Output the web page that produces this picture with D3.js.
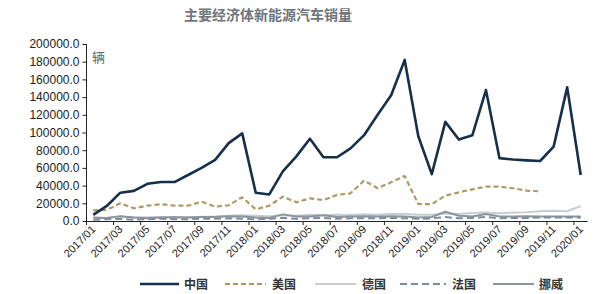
<!DOCTYPE html>
<html>
<head>
<meta charset="utf-8">
<script src="https://cdn.jsdelivr.net/npm/d3@7"></script>
<style>
  body { margin: 0; background: #fff; }
  text { font-family: "Liberation Sans", "Noto Sans CJK SC", sans-serif; }
  .cjk { font-family: "Noto Sans CJK SC", sans-serif; }
</style>
</head>
<body>
<script>
var months = [];
for (var yr = 2017; yr <= 2019; yr++) {
	for (var m = 1; m <= 12; m++) months.push(yr + "/" + (m < 10 ? "0" + m : m));
}
months.push("2020/01");

var china = [7000,17000,32000,34000,42000,44000,44000,52000,60000,69000,88000,99000,
	32000,30000,56000,73000,93000,72000,72000,82000,97000,120000,142000,182000,
	96000,53000,112000,92000,97000,148000,71000,69500,68500,67800,84000,151000,52000];
var usa = [12000,12500,20000,14300,17300,18900,17300,17300,21800,16200,17800,26800,
	13200,17300,27500,21100,25600,23700,29500,31300,45600,37000,43700,50800,
	19200,19000,28600,32400,35800,38800,38800,37000,34300,33500];
var germany = [3000,3500,5000,4000,4200,4500,4500,4200,4800,5000,6000,6500,
	6000,5500,6500,6000,7000,6500,7000,6800,7500,7200,7800,8000,
	7000,7200,8500,8000,9000,9500,8800,9500,10000,11000,11500,11000,17000];
var france = [1500,2000,2500,1500,2000,2500,2000,2000,2500,2500,3000,2500,
	2000,2500,3500,2500,3000,3500,2500,3000,3000,3000,3500,3000,
	2500,3000,4500,3000,3500,4500,3000,3500,3500,4000,4000,4000,4000];
var norway = [4000,3500,5500,4000,3000,4000,4200,4000,4500,4500,5500,5000,
	4000,3500,7500,5000,5000,6500,4500,5000,5500,5000,5500,5000,
	4000,4500,10500,6000,5000,8000,5000,5000,5500,5000,5000,5000,5000];
var yTicks = [0,20000,40000,60000,80000,100000,120000,140000,160000,180000,200000];

var series = [
	{name: "中国", values: china, color: "#16304b", width: 2.6, dash: null},
	{name: "美国", values: usa, color: "#b09a64", width: 2.2, dash: "5,3"},
	{name: "德国", values: germany, color: "#c9cdd2", width: 2, dash: null},
	{name: "法国", values: france, color: "#7a8ca0", width: 2, dash: "7,4"},
	{name: "挪威", values: norway, color: "#8d949b", width: 2, dash: null}
];

var width = 600, height = 294;
var svg = d3.select("body").append("svg")
	.attr("width", width)
	.attr("height", height);

var x = d3.scaleBand().domain(months).range([86.5, 587.5]).padding(0);
var y = d3.scaleLinear().domain([0, 200000]).range([221, 44]);
var cx = function (d, i) { return x(months[i]) + x.bandwidth() / 2; };

svg.append("text")
	.attr("class", "cjk")
	.attr("x", 268).attr("y", 20)
	.style("text-anchor", "middle")
	.style("font-size", "14px")
	.style("font-weight", "bold")
	.style("fill", "#6e757c")
	.text("主要经济体新能源汽车销量");

// y axis
var yAxis = svg.append("g")
	.attr("transform", "translate(86.5,0)")
	.call(d3.axisLeft(y).tickValues(yTicks).tickSize(4).tickFormat(function (d) { return d.toFixed(1); }));
yAxis.selectAll("text").style("font-size", "12px").style("fill", "#222").attr("x", -7);
yAxis.selectAll("line, path").style("stroke", "#222");
yAxis.select("path").attr("d", "M0," + y(200000) + "V" + y(0));

svg.append("text")
	.attr("class", "cjk")
	.attr("x", 92).attr("y", 62)
	.style("font-size", "13px")
	.style("fill", "#666")
	.text("辆");

// lines
var line = d3.line()
	.defined(function (d) { return d != null; })
	.x(cx)
	.y(function (d) { return y(d); });

// draw smaller series first, China on top
[2, 4, 3, 1, 0].forEach(function (k) {
	var s = series[k];
	svg.append("path")
		.datum(s.values)
		.attr("d", line)
		.style("fill", "none")
		.style("stroke", s.color)
		.style("stroke-width", s.width)
		.style("stroke-dasharray", s.dash)
		.style("stroke-linejoin", "round");
});

// x axis
svg.append("line")
	.attr("x1", 86.5).attr("x2", 587.5)
	.attr("y1", y(0) + 0.5).attr("y2", y(0) + 0.5)
	.style("stroke", "#222").style("stroke-width", 1.2);

var labelMonths = months.filter(function (d, i) { return i % 2 === 0; });
svg.selectAll("line.xtick")
	.data(labelMonths)
	.enter()
	.append("line")
	.attr("class", "xtick")
	.attr("x1", function (d) { return x(d); })
	.attr("x2", function (d) { return x(d); })
	.attr("y1", y(0))
	.attr("y2", y(0) + 4)
	.style("stroke", "#222");

svg.selectAll("text.xlab")
	.data(labelMonths)
	.enter()
	.append("text")
	.attr("class", "xlab")
	.text(function (d) { return d; })
	.style("font-size", "11px")
	.style("fill", "#222")
	.style("text-anchor", "end")
	.attr("transform", function (d) {
		return "translate(" + (x(d) + x.bandwidth() / 2 + 3) + "," + (y(0) + 9) + ") rotate(-45)";
	});

// legend
var legendPos = [[140, 179, 184], [225, 266, 272], [315, 356, 362], [400, 446, 452], [493, 534, 539]];
var legend = svg.selectAll("g.legend")
	.data(series)
	.enter()
	.append("g")
	.attr("class", "legend");

legend.append("line")
	.attr("x1", function (d, i) { return legendPos[i][0]; })
	.attr("x2", function (d, i) { return legendPos[i][1]; })
	.attr("y1", 284).attr("y2", 284)
	.style("stroke", function (d) { return d.color; })
	.style("stroke-width", function (d) { return d.width; })
	.style("stroke-dasharray", function (d) { return d.dash; });

legend.append("text")
	.attr("class", "cjk")
	.attr("x", function (d, i) { return legendPos[i][2]; })
	.attr("y", 288.5)
	.style("font-size", "12px")
	.style("font-weight", "bold")
	.style("fill", "#333")
	.text(function (d) { return d.name; });
</script>
</body>
</html>
